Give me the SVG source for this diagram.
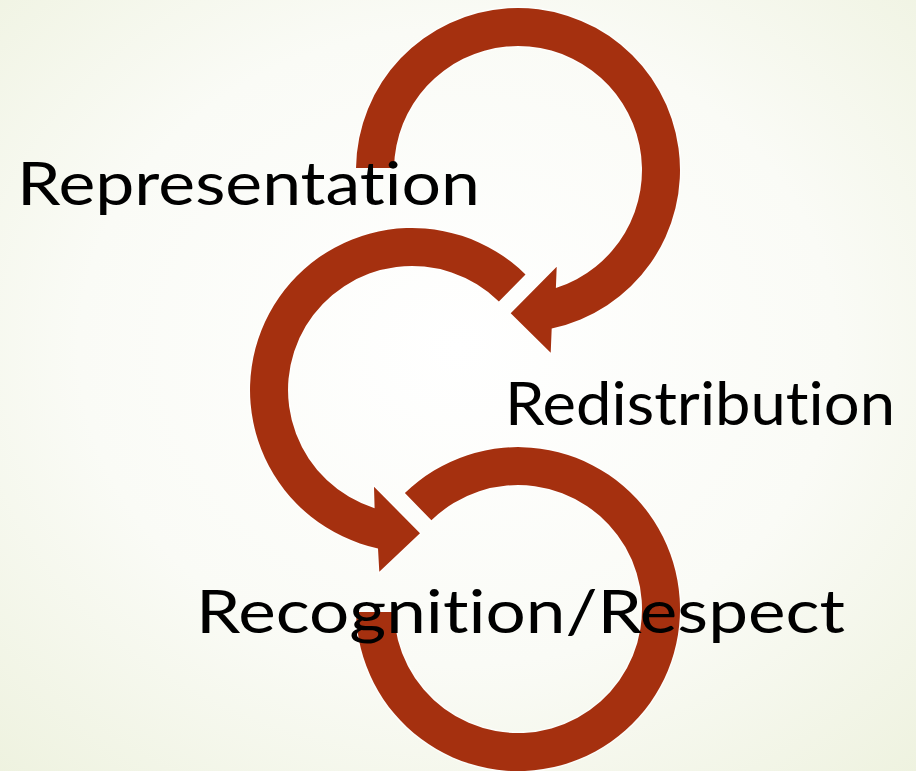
<svg xmlns="http://www.w3.org/2000/svg" width="916" height="771" viewBox="0 0 916 771">
  <defs>
    <radialGradient id="bg" cx="50%" cy="45%" r="75%">
      <stop offset="0" stop-color="#FFFFFF"/>
      <stop offset="0.55" stop-color="#FAFBF6"/>
      <stop offset="1" stop-color="#EEF2DF"/>
    </radialGradient>
  </defs>
  <style>
    .arrow { fill: #A5300F; stroke: #FFFFFF; stroke-width: 3; stroke-opacity: 0.7; paint-order: stroke; stroke-linejoin: miter; }
    .label { font-family: Lato, "Liberation Sans", Arial, sans-serif; font-weight: 400; font-size: 60px; fill: #000000; font-variant-ligatures: none; font-feature-settings: "liga" 0; }
  </style>
  <rect x="0" y="0" width="916" height="771" fill="url(#bg)"/>
  <g id="connectors">
    <path id="arrow-representation" class="arrow" d="M356.01,168 A162,162 0 1 1 551.7,328.5 L550.7,352.7 L510.7,313.3 L556.7,266.7 L555.9,288.1 A124,124 0 1 0 394.02,168 Z"/>
    <path id="arrow-redistribution" class="arrow" d="M525.5,274.4 A162,162 0 1 0 378.0,548.4 L379.3,571.7 L420,533.3 L374,486.7 L374.6,508.2 A124,124 0 1 1 498.9,301.5 Z"/>
    <path id="arrow-recognition" class="arrow" d="M404.9,493.1 A162,162 0 1 1 356.03,612 L394.04,612 A124,124 0 1 0 431.4,520.3 Z"/>
  </g>
  <g id="node-representation">
    <text class="label" x="17" y="205" textLength="463" lengthAdjust="spacingAndGlyphs">Representation</text>
  </g>
  <g id="node-redistribution">
    <text class="label" x="505" y="425" textLength="390" lengthAdjust="spacingAndGlyphs">Redistribution</text>
  </g>
  <g id="node-recognition">
    <text class="label" x="196" y="633" textLength="649" lengthAdjust="spacingAndGlyphs">Recognition/Respect</text>
  </g>
</svg>
